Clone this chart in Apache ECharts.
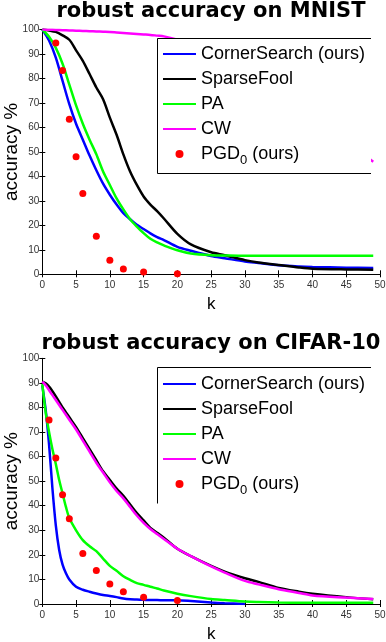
<!DOCTYPE html>
<html>
<head>
<meta charset="utf-8">
<script src="https://cdn.jsdelivr.net/npm/echarts@6/dist/echarts.min.js"></script>
<style>
  html, body { margin: 0; padding: 0; background: #fff; }
  #chart { width: 386px; height: 642px; }
</style>
</head>
<body>
<div id="chart"></div>
<script>
const mnistK = [0, 1, 2, 3, 4, 5, 6, 7, 8, 9, 10, 11, 12, 13, 14, 15, 16, 17, 18, 20, 22, 25, 27, 30, 32, 35, 38, 40, 45, 49];
const mnistCorner = [100, 95.5, 88.5, 79, 69.5, 61.5, 55, 48.5, 42.5, 37, 32.5, 28.5, 25, 22.5, 20.2, 18.5, 16.7, 15.2, 14, 11.2, 9.6, 7.5, 6.6, 5.2, 4.6, 3.7, 3.2, 3, 2.7, 2.6];
const mnistSparseFool = [100, 99.6, 99, 97.6, 95.8, 91.5, 87.2, 81.8, 76.3, 71.5, 64, 57, 49, 42, 36.5, 31.8, 28.5, 25.8, 22.8, 16.5, 12.2, 9, 7.8, 5.8, 4.8, 3.8, 2.8, 2.3, 2, 1.9];
const mnistPA = [100, 97, 92.5, 86, 77.5, 69, 61.5, 55, 49, 42, 36.5, 31, 26.5, 22.5, 19.5, 16.8, 14.5, 13, 11.8, 9.8, 8.5, 7.8, 7.7, 7.6, 7.6, 7.6, 7.6, 7.6, 7.6, 7.6];
const mnistCW = [100, 99.9, 99.8, 99.7, 99.6, 99.5, 99.4, 99.3, 99.2, 99.1, 99, 98.8, 98.6, 98.4, 98.2, 98, 97.8, 97.5, 97.2, 95.8, 93.5, 89.5, 86.5, 82, 78.5, 73, 67, 63, 54, 46];
const mnistPgdK = [2, 3, 4, 5, 6, 8, 10, 12, 15, 20];
const mnistPgd = [94.5, 83.3, 63.3, 48, 33, 15.5, 5.7, 2.2, 0.9, 0.2];

const cifarK = [0, 0.5, 1, 1.5, 2, 2.5, 3, 3.5, 4, 5, 6, 7, 8, 9, 10, 11, 12, 13, 14, 15, 16, 17, 18, 20, 22, 25, 27, 30, 32, 35, 38, 40, 45, 49];
const cifarCorner = [89, 79, 65, 47, 32, 22, 16, 12.5, 10, 7, 5.8, 5, 4.3, 3.7, 3.3, 2.8, 2.2, 1.9, 1.8, 1.7, 1.6, 1.6, 1.5, 1.5, 1.2, 0.6, 0.3, 0, null, null, null, null, null, null];
const cifarSparseFool = [90.5, 89.8, 88.5, 86.6, 84.5, 82.3, 80, 78, 76, 72, 67.5, 63, 58.5, 54, 50.5, 47, 44, 40.5, 37, 34, 31, 29, 27, 22.5, 19.5, 15.5, 13.2, 10.5, 9, 6.5, 5, 4.2, 2.8, 1.9];
const cifarPA = [89.5, 78, 70, 63, 57, 50.5, 45, 39.5, 35, 30, 26, 23.5, 21.5, 18.5, 15.5, 13.5, 11.3, 9.8, 8.5, 7.8, 7, 6.3, 5.5, 4.2, 3.2, 2, 1.6, 1, 0.8, 0.6, 0.5, 0.5, 0.5, 0.5];
const cifarCW = [90.5, 89, 87, 85, 83, 81, 79, 77, 75, 71, 66.5, 62, 57.5, 53.5, 49.5, 46, 43, 39.5, 36, 33, 30.5, 28.5, 26.5, 22.5, 19.5, 15.3, 12.8, 9.4, 8, 6, 4.5, 3.5, 2.6, 2];
const cifarPgdK = [1, 2, 3, 4, 6, 8, 10, 12, 15, 20];
const cifarPgd = [74.9, 59.4, 44.5, 34.7, 20.6, 13.6, 8.1, 5.0, 2.7, 1.4];

const titles = ['robust accuracy on MNIST', 'robust accuracy on CIFAR-10'];
const names = ['CornerSearch (ours)', 'SparseFool', 'PA', 'CW', 'PGD0 (ours)'];
const colors = ['#0000ff', '#000000', '#00ff00', '#ff00ff', '#ff0000'];
const xTicks = { min: 0, max: 50, interval: 5 };
const yTicks = { min: 0, max: 100, interval: 10 };

const font = 'Liberation Sans, Arial, sans-serif';
const chart = echarts.init(document.getElementById('chart'));

function pairs(ks, vals) {
  return ks.map((k, i) => [k, vals[i]]);
}

const panels = [
  { top: 29.5, bottom: 367.7, titleTop: 1, legendTop: 45, box: [157.5, 38.5, 213.5, 135], closed: true,
    lines: [mnistCorner, mnistSparseFool, mnistPA, mnistCW], k: mnistK, pgdK: mnistPgdK, pgd: mnistPgd },
  { top: 358.3, bottom: 38, titleTop: 333, legendTop: 375, box: [157.5, 367.5, 213.5, 136], closed: false,
    lines: [cifarCorner, cifarSparseFool, cifarPA, cifarCW], k: cifarK, pgdK: cifarPgdK, pgd: cifarPgd }
];

const grid = [], xAxis = [], yAxis = [], series = [], legend = [], title = [], graphic = [];

// line items: hide the marker in the legend icon, keep the line
const legendData = names.map((n, j) => j < 4 ? { name: n, itemStyle: { opacity: 0 } } : { name: n });

panels.forEach((p, i) => {
  grid.push({ left: 42.3, right: 6, top: p.top, bottom: p.bottom, containLabel: false, outerBoundsMode: 'none' });
  title.push({
    text: titles[i], left: 211, top: p.titleTop, textAlign: 'center', padding: 0,
    textStyle: { fontFamily: 'DejaVu Sans', fontWeight: 'bold', fontSize: 21, color: '#000' }
  });
  xAxis.push({
    gridIndex: i, type: 'value', ...xTicks,
    name: 'k', nameLocation: 'middle', nameGap: 22, nameMoveOverlap: false,
    nameTextStyle: { fontFamily: font, fontSize: 17, color: '#000' },
    axisLine: { lineStyle: { color: '#000', width: 1 } },
    axisTick: { inside: true, length: 4, lineStyle: { color: '#000' } },
    axisLabel: { fontFamily: font, fontSize: 10, color: '#333', margin: 6 },
    splitLine: { show: false }
  });
  xAxis.push({
    gridIndex: i, type: 'value', position: 'top', ...xTicks,
    axisLine: { show: true, lineStyle: { color: '#000', width: 1 } },
    axisTick: { inside: true, length: 3, lineStyle: { color: '#000' } },
    axisLabel: { show: false }, splitLine: { show: false }
  });
  yAxis.push({
    gridIndex: i, type: 'value', ...yTicks,
    name: 'accuracy %', nameLocation: 'middle', nameGap: 21, nameMoveOverlap: false,
    nameTextStyle: { fontFamily: font, fontSize: 19, color: '#000' },
    axisLine: { show: true, lineStyle: { color: '#000', width: 1 } },
    axisTick: { show: true, inside: true, length: 3, lineStyle: { color: '#000' } },
    axisLabel: { fontFamily: font, fontSize: 10, color: '#333', margin: 3 },
    splitLine: { show: false }
  });
  yAxis.push({
    gridIndex: i, type: 'value', position: 'right', ...yTicks,
    axisLine: { show: false },
    axisTick: { show: true, inside: true, length: 3, lineStyle: { color: '#000' } },
    axisLabel: { show: false }, splitLine: { show: false }
  });

  p.lines.forEach((vals, j) => {
    series.push({
      name: names[j], type: 'line', xAxisIndex: i * 2, yAxisIndex: i * 2,
      data: pairs(p.k, vals), symbol: 'none', smooth: 0.3, connectNulls: false,
      lineStyle: { color: colors[j], width: 2.5 }, itemStyle: { color: colors[j] },
      animation: false
    });
  });
  series.push({
    name: names[4], type: 'scatter', xAxisIndex: i * 2, yAxisIndex: i * 2,
    data: pairs(p.pgdK, p.pgd), symbol: 'circle', symbolSize: 7,
    itemStyle: { color: colors[4], opacity: 1 }, animation: false, z: 3
  });

  legend.push({
    data: legendData, orient: 'vertical', left: 162, top: p.legendTop, padding: 0,
    itemWidth: 33, itemHeight: 8, itemGap: 7, z: 10, selectedMode: false,
    textStyle: {
      fontFamily: font, fontSize: 18, color: '#000',
      rich: { sub: { fontFamily: font, fontSize: 13, verticalAlign: 'bottom', lineHeight: 26 } }
    },
    formatter: name => name === names[4] ? 'PGD{sub|0} (ours)' : name
  });

  const [bx, by, bw, bh] = p.box;
  graphic.push({ type: 'rect', z: 5, shape: { x: bx, y: by, width: bw, height: bh }, style: { fill: '#fff' } });
  const pts = p.closed
    ? [[bx + bw, by], [bx, by], [bx, by + bh], [bx + bw, by + bh]]
    : [[bx + bw, by], [bx, by], [bx, by + bh]];
  graphic.push({ type: 'polyline', z: 6, shape: { points: pts }, style: { stroke: '#000', lineWidth: 1, fill: null } });
});

chart.setOption({
  backgroundColor: '#fff',
  animation: false,
  title, grid, xAxis, yAxis, series, legend, graphic
});
</script>
</body>
</html>
